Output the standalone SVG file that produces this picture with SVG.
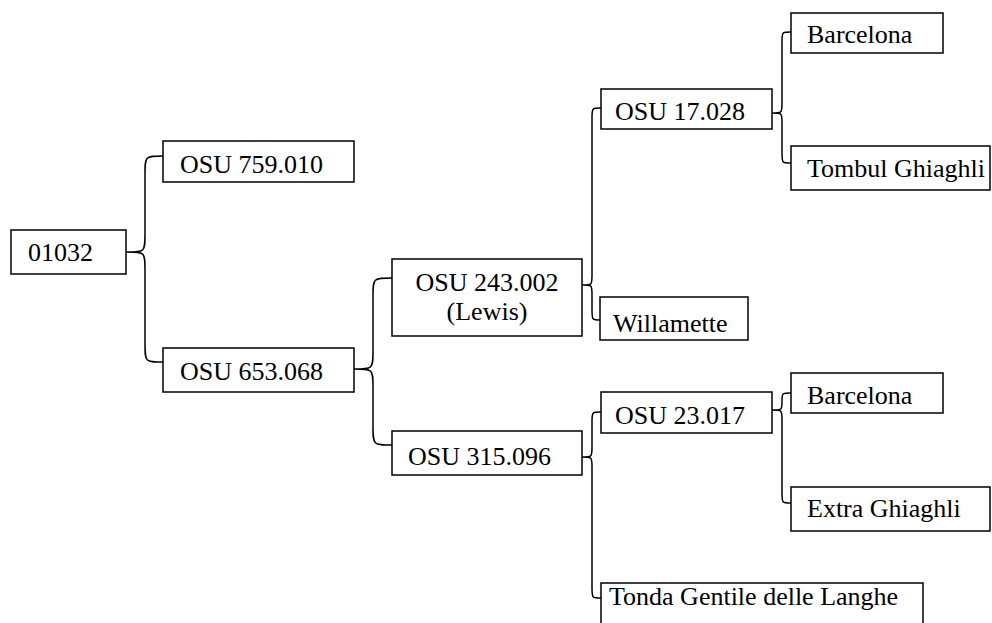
<svg xmlns="http://www.w3.org/2000/svg" width="992" height="623" viewBox="0 0 992 623">
  <style>
    .box { fill: #ffffff; stroke: #000000; stroke-width: 1.5; }
    .lbl { font-size: 26px; fill: #000000; }
    .mid { text-anchor: middle; }
    .brace { fill: none; stroke: #000000; stroke-width: 1.5; stroke-linejoin: round; }
  </style>
  <rect width="992" height="623" fill="#ffffff"/>

  <!-- pedigree braces -->
  <g id="connectors">
    <path class="brace" d="M163,156 C145,156 145,156 145,174 L145,234 C145,252 145,252 127,252 C145,252 145,252 145,270 L145,344 C145,362 145,362 163,362"/>
    <path class="brace" d="M392,278 C373,278 373,278 373,296 L373,351 C373,369 373,369 354,369 C373,369 373,369 373,387 L373,427 C373,445 373,445 392,445"/>
    <path class="brace" d="M601,108 C592,108 592,108 592,118 L592,275 C592,285 592,285 583,285 C592,285 592,285 592,295 L592,310 C592,320 592,320 601,320"/>
    <path class="brace" d="M791,32 C782,32 782,32 782,42 L782,103 C782,113 782,113 772,113 C782,113 782,113 782,123 L782,153 C782,163 782,163 791,163"/>
    <path class="brace" d="M601,412 C592,412 592,412 592,422 L592,447 C592,457 592,457 582,457 C592,457 592,457 592,467 L592,588 C592,598 592,598 601,598"/>
    <path class="brace" d="M791,393 C782,393 782,393 782,401 L782,402 C782,410 782,410 772,410 C782,410 782,410 782,420 L782,493 C782,503 782,503 791,503"/>
  </g>

  <g font-family="'Liberation Serif', 'Times New Roman', 'DejaVu Serif', serif">
  <g id="n01032">
    <rect class="box" x="11" y="230" width="115" height="44"/>
    <text class="lbl" x="28" y="261">01032</text>
  </g>
  <g id="osu759010">
    <rect class="box" x="163" y="141" width="191" height="41"/>
    <text class="lbl" x="180" y="173">OSU 759.010</text>
  </g>
  <g id="osu653068">
    <rect class="box" x="163" y="348" width="191" height="44"/>
    <text class="lbl" x="180" y="380">OSU 653.068</text>
  </g>
  <g id="osu243002">
    <rect class="box" x="392" y="259" width="190" height="77"/>
    <text class="lbl mid" x="487" y="291">OSU 243.002</text>
    <text class="lbl mid" x="487" y="320">(Lewis)</text>
  </g>
  <g id="osu315096">
    <rect class="box" x="392" y="431" width="190" height="44"/>
    <text class="lbl" x="408" y="465">OSU 315.096</text>
  </g>
  <g id="osu17028">
    <rect class="box" x="601" y="89" width="171" height="40"/>
    <text class="lbl" x="615" y="120">OSU 17.028</text>
  </g>
  <g id="barcelona1">
    <rect class="box" x="791" y="13" width="152" height="40"/>
    <text class="lbl" x="807" y="43">Barcelona</text>
  </g>
  <g id="tombul">
    <rect class="box" x="791" y="146" width="199" height="44"/>
    <text class="lbl" x="807" y="177">Tombul Ghiaghli</text>
  </g>
  <g id="willamette">
    <rect class="box" x="600" y="297" width="148" height="43"/>
    <text class="lbl" x="613" y="332">Willamette</text>
  </g>
  <g id="osu23017">
    <rect class="box" x="601" y="392" width="171" height="41"/>
    <text class="lbl" x="615" y="424">OSU 23.017</text>
  </g>
  <g id="barcelona2">
    <rect class="box" x="791" y="373" width="152" height="40"/>
    <text class="lbl" x="807" y="404">Barcelona</text>
  </g>
  <g id="extra">
    <rect class="box" x="791" y="487" width="199" height="44"/>
    <text class="lbl" x="807" y="517">Extra Ghiaghli</text>
  </g>
  <g id="tonda">
    <rect class="box" x="601" y="583" width="322" height="60"/>
    <text class="lbl" x="609" y="605">Tonda Gentile delle Langhe</text>
  </g>
  </g>
</svg>
